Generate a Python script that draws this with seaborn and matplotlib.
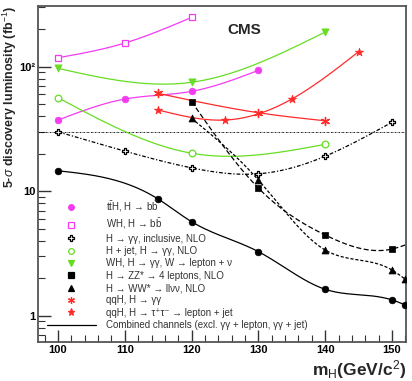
import numpy as np
import pandas as pd
import matplotlib
matplotlib.use("Agg")
import matplotlib.pyplot as plt
import seaborn as sns
from matplotlib.lines import Line2D
from matplotlib.ticker import LogLocator, NullFormatter, FixedLocator, FixedFormatter

# datos (masa en GeV, luminosidad en fb^-1)
tth_m = [100, 110, 120, 130]
tth_l = [37.3, 55, 63.4, 93.5]

whbb_m = [100, 110, 120]
whbb_l = [118, 155, 249]

gg_m = [100, 110, 120, 130, 140, 150]
gg_l = [30, 21, 15.4, 13.8, 19.1, 35.8]

hjet_m = [100, 120, 140]
hjet_l = [56.4, 20.2, 23.8]

whgg_m = [100, 120, 140]
whgg_l = [97, 75, 190]

zz_m = [120, 130, 140, 150]
zz_l = [52.4, 10.6, 4.45, 3.43]
zz_end = 3.7  # la curva sigue hasta el borde (152)

ww_m = [120, 130, 140, 150, 152]
ww_l = [38.5, 12.3, 3.37, 2.33, 1.96]

qqgg_m = [115, 130, 140]
qqgg_l = [61.1, 42.7, 36.8]

qqtt_m = [115, 125, 135, 145]
qqtt_l = [44.9, 37.3, 55, 132]

comb_m = [100, 115, 120, 130, 140, 150, 152]
comb_l = [14.6, 8.65, 5.69, 3.27, 1.63, 1.34, 1.22]

ref_lumi = 30

etiquetas = [r"t$\bar{\rm t}$H, H → b$\bar{\rm b}$",
             r"WH, H → b$\bar{\rm b}$",
             "H → γγ, inclusive, NLO",
             "H + jet, H → γγ, NLO",
             "WH, H → γγ, W → lepton + ν",
             "H → ZZ* → 4 leptons, NLO",
             "H → WW* → llνν, NLO",
             "qqH, H → γγ",
             "qqH, H → τ⁺τ⁻ → lepton + jet",
             "Combined channels (excl. γγ + lepton, γγ + jet)"]

MAG = "#f23cf2"
GRN = "#66dd22"
RED = "#ff2a2a"


def curva_suave(x, y, n=200):
    # spline cubica natural en escala log, solo para dibujar la curva
    x = np.asarray(x, float)
    y = np.log10(np.asarray(y, float))
    k = len(x)
    h = np.diff(x)
    A = np.zeros((k, k))
    b = np.zeros(k)
    A[0, 0] = A[-1, -1] = 1
    for i in range(1, k - 1):
        A[i, i - 1] = h[i - 1]
        A[i, i] = 2 * (h[i - 1] + h[i])
        A[i, i + 1] = h[i]
        b[i] = 6 * ((y[i + 1] - y[i]) / h[i] - (y[i] - y[i - 1]) / h[i - 1])
    M = np.linalg.solve(A, b)
    xs = np.linspace(x[0], x[-1], n)
    j = np.clip(np.searchsorted(x, xs) - 1, 0, k - 2)
    t1 = x[j + 1] - xs
    t2 = xs - x[j]
    hh = h[j]
    ys = (M[j] * t1 ** 3 + M[j + 1] * t2 ** 3) / (6 * hh) \
        + (y[j] / hh - M[j] * hh / 6) * t1 + (y[j + 1] / hh - M[j + 1] * hh / 6) * t2
    return xs, 10 ** ys


sns.set_style("ticks")
plt.rcParams["font.family"] = ["Liberation Sans", "DejaVu Sans"]
plt.rcParams["mathtext.fontset"] = "custom"
plt.rcParams["mathtext.rm"] = "Liberation Sans"
plt.rcParams["mathtext.it"] = "Liberation Sans:italic"
plt.rcParams["mathtext.bf"] = "Liberation Sans:bold"

fig = plt.figure(figsize=(4.12, 3.81), dpi=100)
ax = fig.add_axes([0.0922, 0.1024, 0.8932, 0.8816])

series = [
    (tth_m, tth_l, MAG, "o", "-", True, 4.8, None),
    (whbb_m, whbb_l, MAG, "s", "-", False, 4.4, None),
    (gg_m, gg_l, "black", "P", (0, (3, 1.5, 1, 1.5)), False, 4.8, None),
    (hjet_m, hjet_l, GRN, "o", "-", False, 4.8, None),
    (whgg_m, whgg_l, GRN, "v", "-", True, 5.2, None),
    (zz_m, zz_l, "black", "s", (0, (4, 2)), True, 4.8, zz_end),
    (ww_m, ww_l, "black", "^", (0, (2.5, 1.5)), True, 5.0, None),
    (qqgg_m, qqgg_l, RED, (6, 2, 0), "-", True, 5.8, None),
    (qqtt_m, qqtt_l, RED, "*", "-", True, 6.2, None),
    (comb_m, comb_l, "black", "o", "-", True, 4.8, None),
]

for m, l, col, mk, ls, filled, ms, fin in series:
    mx, ly = list(m), list(l)
    if fin is not None:
        mx.append(152)
        ly.append(fin)
    xs, ys = curva_suave(mx, ly)
    curva = pd.DataFrame({"m": xs, "l": ys})
    sns.lineplot(data=curva, x="m", y="l", ax=ax, color=col, lw=0.9,
                 sort=False, legend=False)
    ax.lines[-1].set_linestyle(ls)
    puntos = pd.DataFrame({"m": m, "l": l})
    if isinstance(mk, tuple):
        sns.scatterplot(data=puntos, x="m", y="l", ax=ax, marker=mk, s=ms ** 2,
                        color=col, linewidth=1.0, edgecolor=col, legend=False, zorder=5)
    elif filled:
        sns.scatterplot(data=puntos, x="m", y="l", ax=ax, marker=mk, s=ms ** 2,
                        color=col, edgecolor=col, linewidth=0.5, legend=False, zorder=5)
    else:
        sns.scatterplot(data=puntos, x="m", y="l", ax=ax, marker=mk, s=ms ** 2,
                        facecolor="white", edgecolor=col, linewidth=0.9, legend=False, zorder=5)

ax.axhline(ref_lumi, color="black", lw=0.6, linestyle=(0, (2, 1, 0.5, 1)), zorder=1)

ax.set_yscale("log")
ax.set_xlim(97, 152.1)
ax.set_ylim(0.615, 307)
ax.set_xlabel("")
ax.set_ylabel("")

ax.xaxis.set_major_locator(FixedLocator([100, 110, 120, 130, 140, 150]))
ax.xaxis.set_minor_locator(FixedLocator(np.arange(98, 153, 2)))
ax.yaxis.set_major_locator(FixedLocator([1, 10, 100]))
ax.yaxis.set_major_formatter(FixedFormatter(["1", "10", "10²"]))
ax.yaxis.set_minor_locator(LogLocator(base=10, subs=np.arange(2, 10)))
ax.yaxis.set_minor_formatter(NullFormatter())
ax.tick_params(which="both", direction="in", top=False, right=False, colors="#333333",
               labelcolor="black")
ax.tick_params(which="major", length=9, width=1.0, labelsize=8, pad=2)
ax.tick_params(which="minor", length=5, width=0.8)
for lab in ax.get_xticklabels() + ax.get_yticklabels():
    lab.set_fontweight("bold")
for sp in ax.spines.values():
    sp.set_color("#555555")
    sp.set_linewidth(1.3)

fig.text(0.002, 0.985, r"5-$\sigma$ discovery luminosity (fb$^{-1}$)", rotation=90,
         ha="left", va="top", fontsize=9, fontweight="bold")
fig.text(0.985, 0.0, r"m$_{\rm H}$(GeV/c$^{2}$)", ha="right", va="bottom",
         fontsize=12.5, fontweight="bold")
ax.text(0.56, 0.928, "CMS", transform=ax.transAxes, ha="center", va="center",
        fontsize=11, fontweight="bold")

handles = []
for (m, l, col, mk, ls, filled, ms, fin), lab in zip(series[:-1], etiquetas[:-1]):
    s = ms * 0.85
    if isinstance(mk, tuple) or filled:
        h = Line2D([], [], ls="none", marker=mk, ms=s, color=col, mfc=col, mec=col, mew=0.9)
    else:
        h = Line2D([], [], ls="none", marker=mk, ms=s, color=col, mfc="white", mec=col, mew=0.9)
    handles.append(h)
handles.append(Line2D([], [], color="black", lw=0.9))
leg = ax.legend(handles, etiquetas, loc="upper left", bbox_to_anchor=(0.025, 0.425),
                frameon=False, fontsize=7, handlelength=5.0, handletextpad=1.0,
                labelspacing=0.24, borderpad=0, borderaxespad=0, numpoints=1)
for t in leg.get_texts():
    t.set_color("#333333")

fig.savefig("out.png", dpi=100)
